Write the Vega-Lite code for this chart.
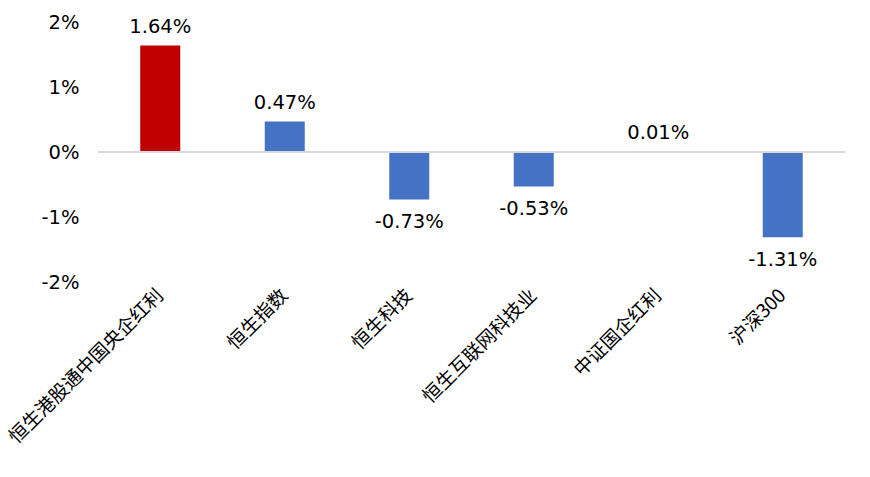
{
  "$schema": "https://vega.github.io/schema/vega-lite/v6.json",
  "width": 747,
  "height": 260,
  "autosize": {"type": "none"},
  "padding": {"left": 98, "top": 22, "right": 25, "bottom": 195},
  "background": "#ffffff",
  "config": {
    "view": {"stroke": "transparent"},
    "font": "DejaVu Sans",
    "locale": {
      "number": {
        "decimal": ".",
        "thousands": ",",
        "grouping": [3],
        "currency": ["$", ""],
        "minus": "-"
      }
    }
  },
  "data": {
    "values": [
      {"name": "恒生港股通中国央企红利", "ret": 0.0164},
      {"name": "恒生指数", "ret": 0.0047},
      {"name": "恒生科技", "ret": -0.0073},
      {"name": "恒生互联网科技业", "ret": -0.0053},
      {"name": "中证国企红利", "ret": 0.0001},
      {"name": "沪深300", "ret": -0.0131}
    ]
  },
  "encoding": {
    "x": {
      "field": "name",
      "type": "nominal",
      "sort": null,
      "scale": {"paddingInner": 0, "paddingOuter": 0},
      "axis": {
        "title": null,
        "orient": "bottom",
        "domain": false,
        "ticks": false,
        "labelAngle": -45,
        "labelAlign": "right",
        "labelBaseline": "middle",
        "labelPadding": 10,
        "labelFont": "Noto Sans CJK SC",
        "labelFontSize": 19,
        "labelColor": "#000000",
        "labelLimit": 400
      }
    },
    "y": {
      "field": "ret",
      "type": "quantitative",
      "scale": {"domain": [-0.02, 0.02], "nice": false},
      "axis": {
        "title": null,
        "format": ".0%",
        "values": [-0.02, -0.01, 0, 0.01, 0.02],
        "domain": false,
        "ticks": false,
        "grid": false,
        "labelPadding": 19,
        "labelFontSize": 19.5,
        "labelColor": "#000000"
      }
    }
  },
  "layer": [
    {
      "mark": {"type": "bar", "size": 40},
      "encoding": {
        "color": {
          "condition": {"test": "datum.name === '恒生港股通中国央企红利'", "value": "#c00000"},
          "value": "#4472c4"
        }
      }
    },
    {
      "mark": {"type": "rule", "color": "#d9d9d9", "strokeWidth": 1.5},
      "encoding": {"x": null, "y": {"datum": 0, "type": "quantitative"}}
    },
    {
      "transform": [{"filter": "datum.ret >= 0"}],
      "mark": {"type": "text", "baseline": "bottom", "dy": -8, "fontSize": 19.5, "color": "#000000"},
      "encoding": {"text": {"field": "ret", "type": "quantitative", "format": ".2%"}}
    },
    {
      "transform": [{"filter": "datum.ret < 0"}],
      "mark": {"type": "text", "baseline": "top", "dy": 14, "fontSize": 19.5, "color": "#000000"},
      "encoding": {"text": {"field": "ret", "type": "quantitative", "format": ".2%"}}
    }
  ]
}
